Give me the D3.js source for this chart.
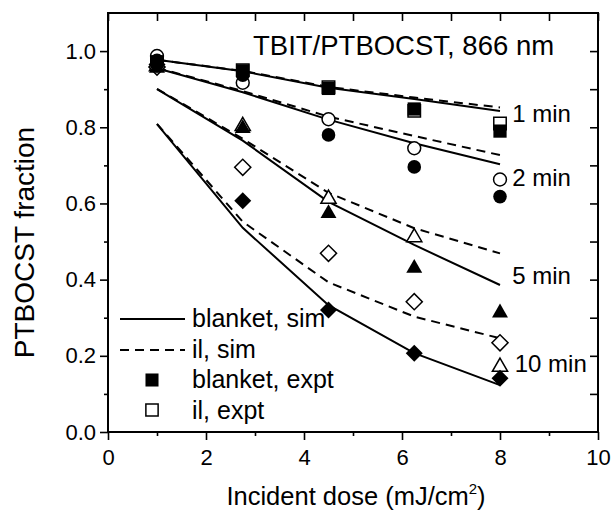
<!DOCTYPE html>
<html>
<head>
<meta charset="utf-8">
<script src="https://cdn.jsdelivr.net/npm/d3@7"></script>
<style>
	body { margin: 0; background: #fff; }
	svg text { font-family: "Liberation Sans", Arial, sans-serif; fill: #000; }
	.axis path { display: none; }
	.axis line { stroke: #000; stroke-width: 1.6px; }
</style>
</head>
<body>
<div id="chart"></div>
<script>
//dose values and fractions
var doses = [1, 2.75, 4.5, 6.25, 8];
var times = ["1 min", "2 min", "5 min", "10 min"];
var symbols = ["square", "circle", "triangle", "diamond"];

//simulation, blanket exposure (solid lines)
var sim_blanket = [
	[0.977, 0.947, 0.904, 0.874, 0.843],
	[0.955, 0.892, 0.820, 0.758, 0.703],
	[0.900, 0.765, 0.604, 0.491, 0.386],
	[0.808, 0.536, 0.333, 0.207, 0.123]
];
//simulation, il exposure (dashed lines)
var sim_il = [
	[0.977, 0.948, 0.906, 0.878, 0.852],
	[0.956, 0.895, 0.828, 0.777, 0.727],
	[0.901, 0.770, 0.628, 0.535, 0.469],
	[0.809, 0.552, 0.393, 0.303, 0.246]
];
//experiment, blanket (filled markers)
var expt_blanket = [
	[0.972, 0.948, 0.902, 0.848, 0.790],
	[0.976, 0.937, 0.780, 0.696, 0.618],
	[0.955, 0.797, 0.574, 0.430, 0.313],
	[0.965, 0.607, 0.320, 0.207, 0.141]
];
//experiment, il (open markers)
var expt_il = [
	[0.975, 0.950, 0.905, 0.843, 0.810],
	[0.987, 0.917, 0.821, 0.745, 0.663],
	[0.960, 0.803, 0.612, 0.511, 0.171],
	[0.958, 0.695, 0.469, 0.342, 0.234]
];

var xTicks = [0, 2, 4, 6, 8, 10];
var yTicks = [0, 0.2, 0.4, 0.6, 0.8, 1.0];
var legend_labels = ["blanket, sim", "il, sim", "blanket, expt", "il, expt"];
var title = "TBIT/PTBOCST, 866 nm";

var W = 616, H = 522;
var margin = {top: 13, right: 18, bottom: 90, left: 108};
var graph_w = W - margin.left - margin.right;
var graph_h = H - margin.top - margin.bottom;

var svg = d3.select("#chart").append("svg")
	.attr("width", W)
	.attr("height", H)
	.style("background", "#fff");

var g = svg.append("g")
	.attr("transform", "translate(" + margin.left + "," + margin.top + ")");

var x = d3.scaleLinear().domain([0, 10]).range([0, graph_w]);
var y = d3.scaleLinear().domain([0, 1.1]).range([graph_h, 0]);

function symbolPath(name, filled) {
	if (name == "square") return d3.symbol().type(d3.symbolSquare).size(filled ? 175 : 155)();
	if (name == "circle") return d3.symbol().type(d3.symbolCircle).size(filled ? 145 : 130)();
	if (name == "triangle") return d3.symbol().type(d3.symbolTriangle).size(filled ? 110 : 100)();
	return d3.symbol().type(d3.symbolSquare).size(filled ? 145 : 130)();
}
function symbolRot(name) {
	return name == "diamond" ? " rotate(45)" : "";
}

// minor ticks (outward, short)
g.append("g").attr("class", "axis")
	.attr("transform", "translate(0," + graph_h + ")")
	.call(d3.axisBottom(x).tickValues([1, 3, 5, 7, 9]).tickSize(4).tickFormat(""));
g.append("g").attr("class", "axis")
	.call(d3.axisLeft(y).tickValues([0.1, 0.3, 0.5, 0.7, 0.9]).tickSize(4).tickFormat(""));

// major ticks with labels
var xAxis = g.append("g").attr("class", "axis")
	.attr("transform", "translate(0," + graph_h + ")")
	.call(d3.axisBottom(x).tickValues(xTicks).tickSize(8).tickPadding(9).tickFormat(d3.format("d")));
xAxis.selectAll("text").style("font-size", "22px");

var yAxis = g.append("g").attr("class", "axis")
	.call(d3.axisLeft(y).tickValues(yTicks).tickSize(8).tickPadding(4).tickFormat(d3.format(".1f")));
yAxis.selectAll("text").style("font-size", "22px");

// top and right mirror ticks, pointing in
g.append("g").attr("class", "axis")
	.call(d3.axisTop(x).ticks(10).tickSize(-8).tickFormat(""));
g.append("g").attr("class", "axis")
	.attr("transform", "translate(" + graph_w + ",0)")
	.call(d3.axisRight(y).tickValues(d3.range(1, 11).map(function(d) { return d / 10; })).tickSize(-8).tickFormat(""));

// frame
g.append("rect")
	.attr("width", graph_w)
	.attr("height", graph_h)
	.attr("fill", "none")
	.attr("stroke", "#000")
	.attr("stroke-width", 2);

// simulation lines
var line = d3.line()
	.x(function(d, i) { return x(doses[i]); })
	.y(function(d) { return y(d); });

sim_blanket.forEach(function(s) {
	g.append("path").datum(s)
		.attr("d", line)
		.attr("fill", "none")
		.attr("stroke", "#000")
		.attr("stroke-width", 2);
});
sim_il.forEach(function(s) {
	g.append("path").datum(s)
		.attr("d", line)
		.attr("fill", "none")
		.attr("stroke", "#000")
		.attr("stroke-width", 2)
		.attr("stroke-dasharray", "9,6");
});

// experimental points: open first, filled on top
expt_il.forEach(function(s, k) {
	g.selectAll(null).data(s).enter().append("path")
		.attr("d", symbolPath(symbols[k], false))
		.attr("transform", function(d, i) { return "translate(" + x(doses[i]) + "," + y(d) + ")" + symbolRot(symbols[k]); })
		.attr("fill", "#fff")
		.attr("stroke", "#000")
		.attr("stroke-width", 1.5);
});
expt_blanket.forEach(function(s, k) {
	g.selectAll(null).data(s).enter().append("path")
		.attr("d", symbolPath(symbols[k], true))
		.attr("transform", function(d, i) { return "translate(" + x(doses[i]) + "," + y(d) + ")" + symbolRot(symbols[k]); })
		.attr("fill", "#000");
});

// time labels next to the line ends
var labelY = [0.815, 0.645, 0.388, 0.157];
var labelX = [8.25, 8.25, 8.25, 8.3];
times.forEach(function(t, k) {
	g.append("text")
		.attr("x", x(labelX[k]))
		.attr("y", y(labelY[k]))
		.style("font-size", "24px")
		.text(t);
});

// title inside the plot
g.append("text")
	.attr("x", x(2.96))
	.attr("y", y(0.99))
	.style("font-size", "27.5px")
	.text(title);

// legend
var leg = g.append("g").attr("transform", "translate(12,306)");
leg.append("line").attr("x1", 0).attr("x2", 65).attr("y1", 0).attr("y2", 0)
	.attr("stroke", "#000").attr("stroke-width", 2);
leg.append("line").attr("x1", 0).attr("x2", 65).attr("y1", 31).attr("y2", 31)
	.attr("stroke", "#000").attr("stroke-width", 2).attr("stroke-dasharray", "9,6");
leg.append("path").attr("d", d3.symbol().type(d3.symbolSquare).size(170)())
	.attr("transform", "translate(32,61)").attr("fill", "#000");
leg.append("path").attr("d", d3.symbol().type(d3.symbolSquare).size(150)())
	.attr("transform", "translate(32,91)").attr("fill", "#fff").attr("stroke", "#000").attr("stroke-width", 1.5);
legend_labels.forEach(function(t, i) {
	leg.append("text")
		.attr("x", 72)
		.attr("y", i * 30.5 + 8)
		.style("font-size", "25px")
		.text(t);
});

// axis titles
var xlab = svg.append("text")
	.attr("x", margin.left + graph_w / 2 + 3)
	.attr("y", 505)
	.attr("text-anchor", "middle")
	.style("font-size", "25.5px");
xlab.append("tspan").text("Incident dose (mJ/cm");
xlab.append("tspan").attr("dy", -11).style("font-size", "15px").text("2");
xlab.append("tspan").attr("dy", 11).text(")");

svg.append("text")
	.attr("transform", "translate(34," + (margin.top + graph_h / 2 + 20) + ") rotate(-90)")
	.attr("text-anchor", "middle")
	.style("font-size", "28px")
	.text("PTBOCST fraction");
</script>
</body>
</html>
